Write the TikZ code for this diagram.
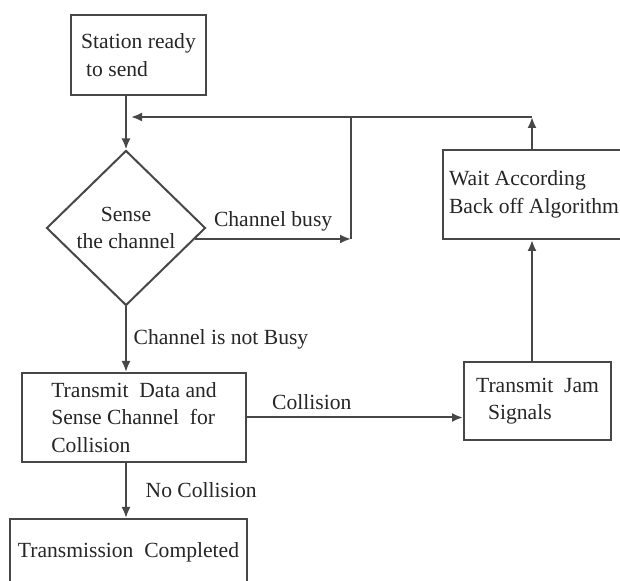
\documentclass[tikz,border=0pt]{standalone}
\usepackage{fontspec}
\setmainfont{Liberation Serif}
\usetikzlibrary{shapes.geometric,arrows.meta,calc}

\begin{document}
\begin{tikzpicture}[x=0.5pt,y=-0.5pt,
  every node/.style={font=\fontsize{10.8}{13.75}\selectfont, text=black!85},
  box/.style={draw=black!72, line width=1pt, rectangle, align=left, inner sep=0pt},
  decision/.style={draw=black!72, line width=1pt, diamond, align=center, inner sep=0pt},
  arr/.style={draw=black!72, line width=1pt, -{Latex[length=5.5pt,width=4.5pt]}},
  link/.style={draw=black!72, line width=1pt}]

% page frame (pixel units, y downwards)
\useasboundingbox (0,0) rectangle (620,581);
\fill[white] (0,0) rectangle (620,581);

% boxes
\node[box, minimum width=67.5pt, minimum height=40pt] (ready) at (138.5,55) {Station ready\\\hspace*{2.5pt}to send};
\node[decision, minimum width=79.5pt, minimum height=77.5pt] (sense) at (126,228) {Sense\\the channel};
\node[box, minimum width=91pt, minimum height=44.5pt] (wait) at (534,194.5) {Wait According\\Back off Algorithm};
\node[box, minimum width=112pt, minimum height=44.5pt] (data) at (134,417.5) {Transmit\ \ Data and\\Sense Channel\ \ for\\Collision};
\node[box, minimum width=73.5pt, minimum height=39pt] (jam) at (537.5,401) {Transmit\ \ Jam\\\hspace*{6pt}Signals};
\node[box, anchor=north, minimum width=118.5pt, inner ysep=4pt, text height=15.5pt, text depth=40pt] (done) at (128.5,518) {Transmission\ \ Completed};

% corner points of the loop back
\coordinate (merge) at (131,117);
\coordinate (busy) at (351,239);
\coordinate (up) at (532,117);

% connectors
\draw[arr] (ready.south -| sense.north) -- (sense.north);
\draw[arr] (sense.-9) -- (sense.-9 -| busy) node[midway, above] {Channel busy};
\draw[link] (sense.-9 -| busy) -- (busy |- merge);
\draw[arr] (up) -- (merge);
\draw[arr] (sense.south) -- (sense.south |- data.north) node[midway, right] {Channel is not Busy};
\draw[arr] (data.east) -- (data.east -| jam.west) node[pos=0.3, above] {Collision};
\draw[arr] (jam.north -| up) -- (wait.south -| up);
\draw[arr] (wait.north -| up) -- (up);
\draw[arr] (sense.south |- data.south) -- (sense.south |- done.north) node[midway, right=6pt] {No Collision};

\end{tikzpicture}
\end{document}
